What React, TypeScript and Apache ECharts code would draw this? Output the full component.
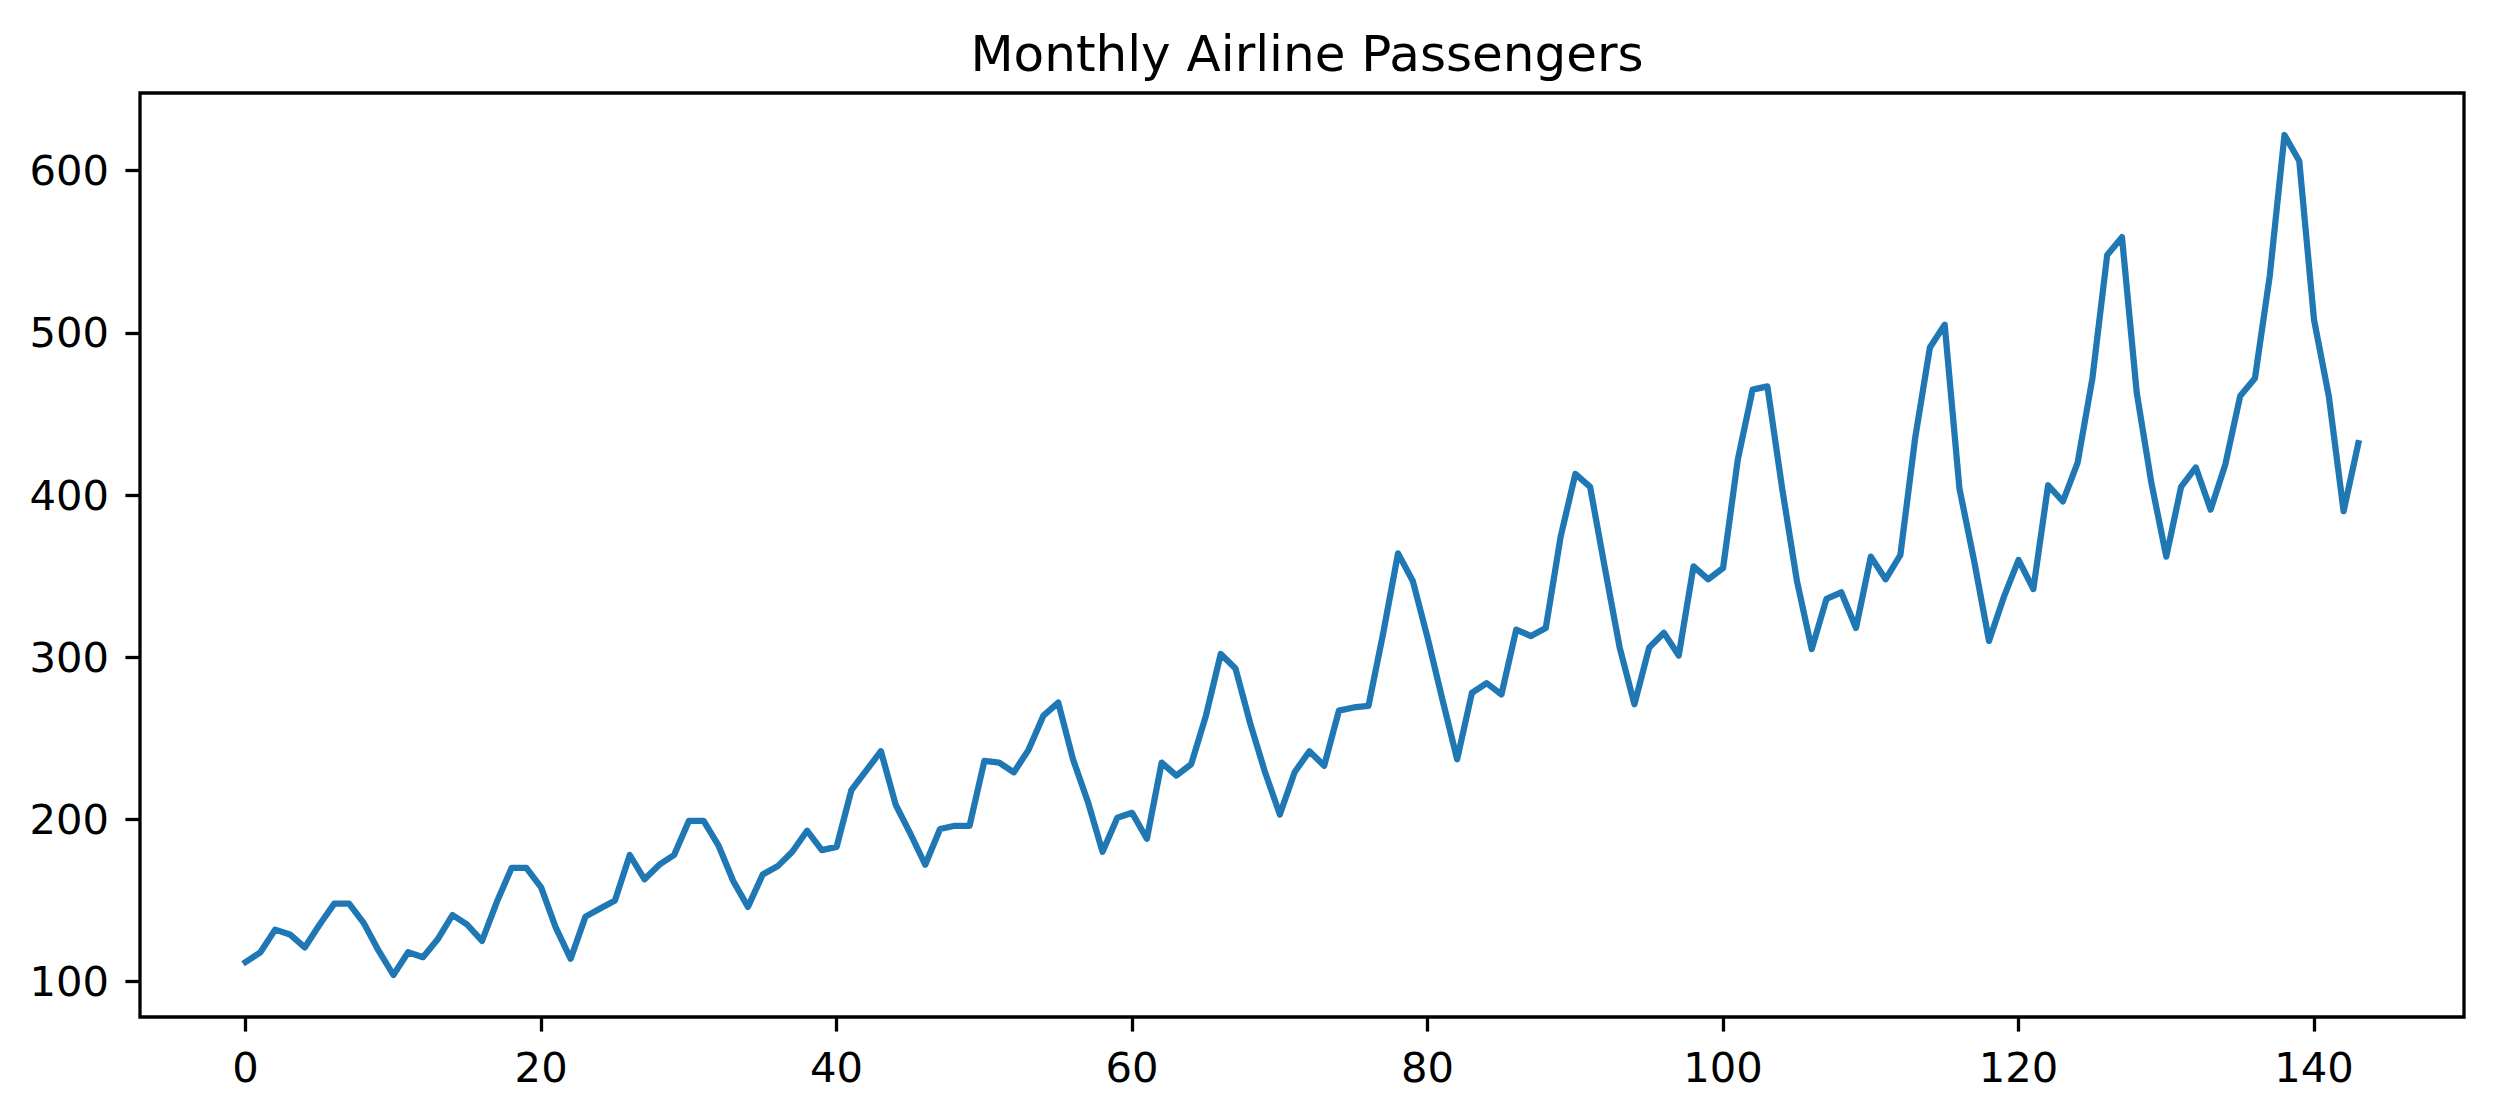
import { useEffect, useRef } from "react";
import * as echarts from "echarts";

// monthly totals, Jan 1949 .. Dec 1960 (thousands)
const passengers = [
  112, 118, 132, 129, 121, 135, 148, 148, 136, 119, 104, 118,
  115, 126, 141, 135, 125, 149, 170, 170, 158, 133, 114, 140,
  145, 150, 178, 163, 172, 178, 199, 199, 184, 162, 146, 166,
  171, 180, 193, 181, 183, 218, 230, 242, 209, 191, 172, 194,
  196, 196, 236, 235, 229, 243, 264, 272, 237, 211, 180, 201,
  204, 188, 235, 227, 234, 264, 302, 293, 259, 229, 203, 229,
  242, 233, 267, 269, 270, 315, 364, 347, 312, 274, 237, 278,
  284, 277, 317, 313, 318, 374, 413, 405, 355, 306, 271, 306,
  315, 301, 356, 348, 355, 422, 465, 467, 404, 347, 305, 336,
  340, 318, 362, 348, 363, 435, 491, 505, 404, 359, 310, 337,
  360, 342, 406, 396, 420, 472, 548, 559, 463, 407, 362, 405,
  417, 391, 419, 461, 472, 535, 622, 606, 508, 461, 390, 432,
];

const xTicks = [0, 20, 40, 60, 80, 100, 120, 140];
const yTicks = [100, 200, 300, 400, 500, 600];

const FONT = "DejaVu Sans";

export default function App() {
  const ref = useRef<HTMLDivElement>(null);

  useEffect(() => {
    document.body.style.margin = "0";
    if (!ref.current) return;
    const chart = echarts.init(ref.current, undefined, { renderer: "svg" });

    // matplotlib style 5% margins around the data
    const n = passengers.length;
    const xPad = (n - 1) * 0.05;
    const lo = Math.min(...passengers);
    const hi = Math.max(...passengers);
    const yPad = (hi - lo) * 0.05;

    const axisCommon = {
      axisLine: { show: false, onZero: false },
      splitLine: { show: false },
      axisTick: {
        show: true,
        length: 14.6,
        lineStyle: { color: "#000", width: 3.3 },
      },
      axisLabel: {
        color: "#000",
        fontFamily: FONT,
        fontSize: 41.7,
        margin: 29,
      },
    };

    chart.setOption({
      animation: false,
      title: {
        text: "Monthly Airline Passengers",
        left: 1302,
        top: 24,
        textAlign: "center",
        textStyle: {
          color: "#000",
          fontFamily: FONT,
          fontSize: 50,
          fontWeight: "normal",
        },
      },
      grid: {
        left: 140,
        top: 93,
        width: 2324,
        height: 924,
        show: true,
        borderColor: "#000",
        borderWidth: 3.3,
        containLabel: false,
      },
      xAxis: {
        ...axisCommon,
        type: "value",
        position: "bottom",
        min: -xPad,
        max: n - 1 + xPad,
        axisTick: { ...axisCommon.axisTick, customValues: xTicks },
        axisLabel: { ...axisCommon.axisLabel, customValues: xTicks },
      },
      yAxis: {
        ...axisCommon,
        type: "value",
        position: "left",
        min: lo - yPad,
        max: hi + yPad,
        axisTick: { ...axisCommon.axisTick, customValues: yTicks },
        axisLabel: { ...axisCommon.axisLabel, customValues: yTicks, margin: 31 },
      },
      series: [
        {
          type: "line",
          showSymbol: false,
          data: passengers.map((v, i) => [i, v]),
          lineStyle: {
            color: "#1f77b4",
            width: 6.25,
            join: "round",
            cap: "square",
          },
        },
      ],
    });

    return () => chart.dispose();
  }, []);

  return <div ref={ref} style={{ width: 2493, height: 1116, background: "#fff" }} />;
}
